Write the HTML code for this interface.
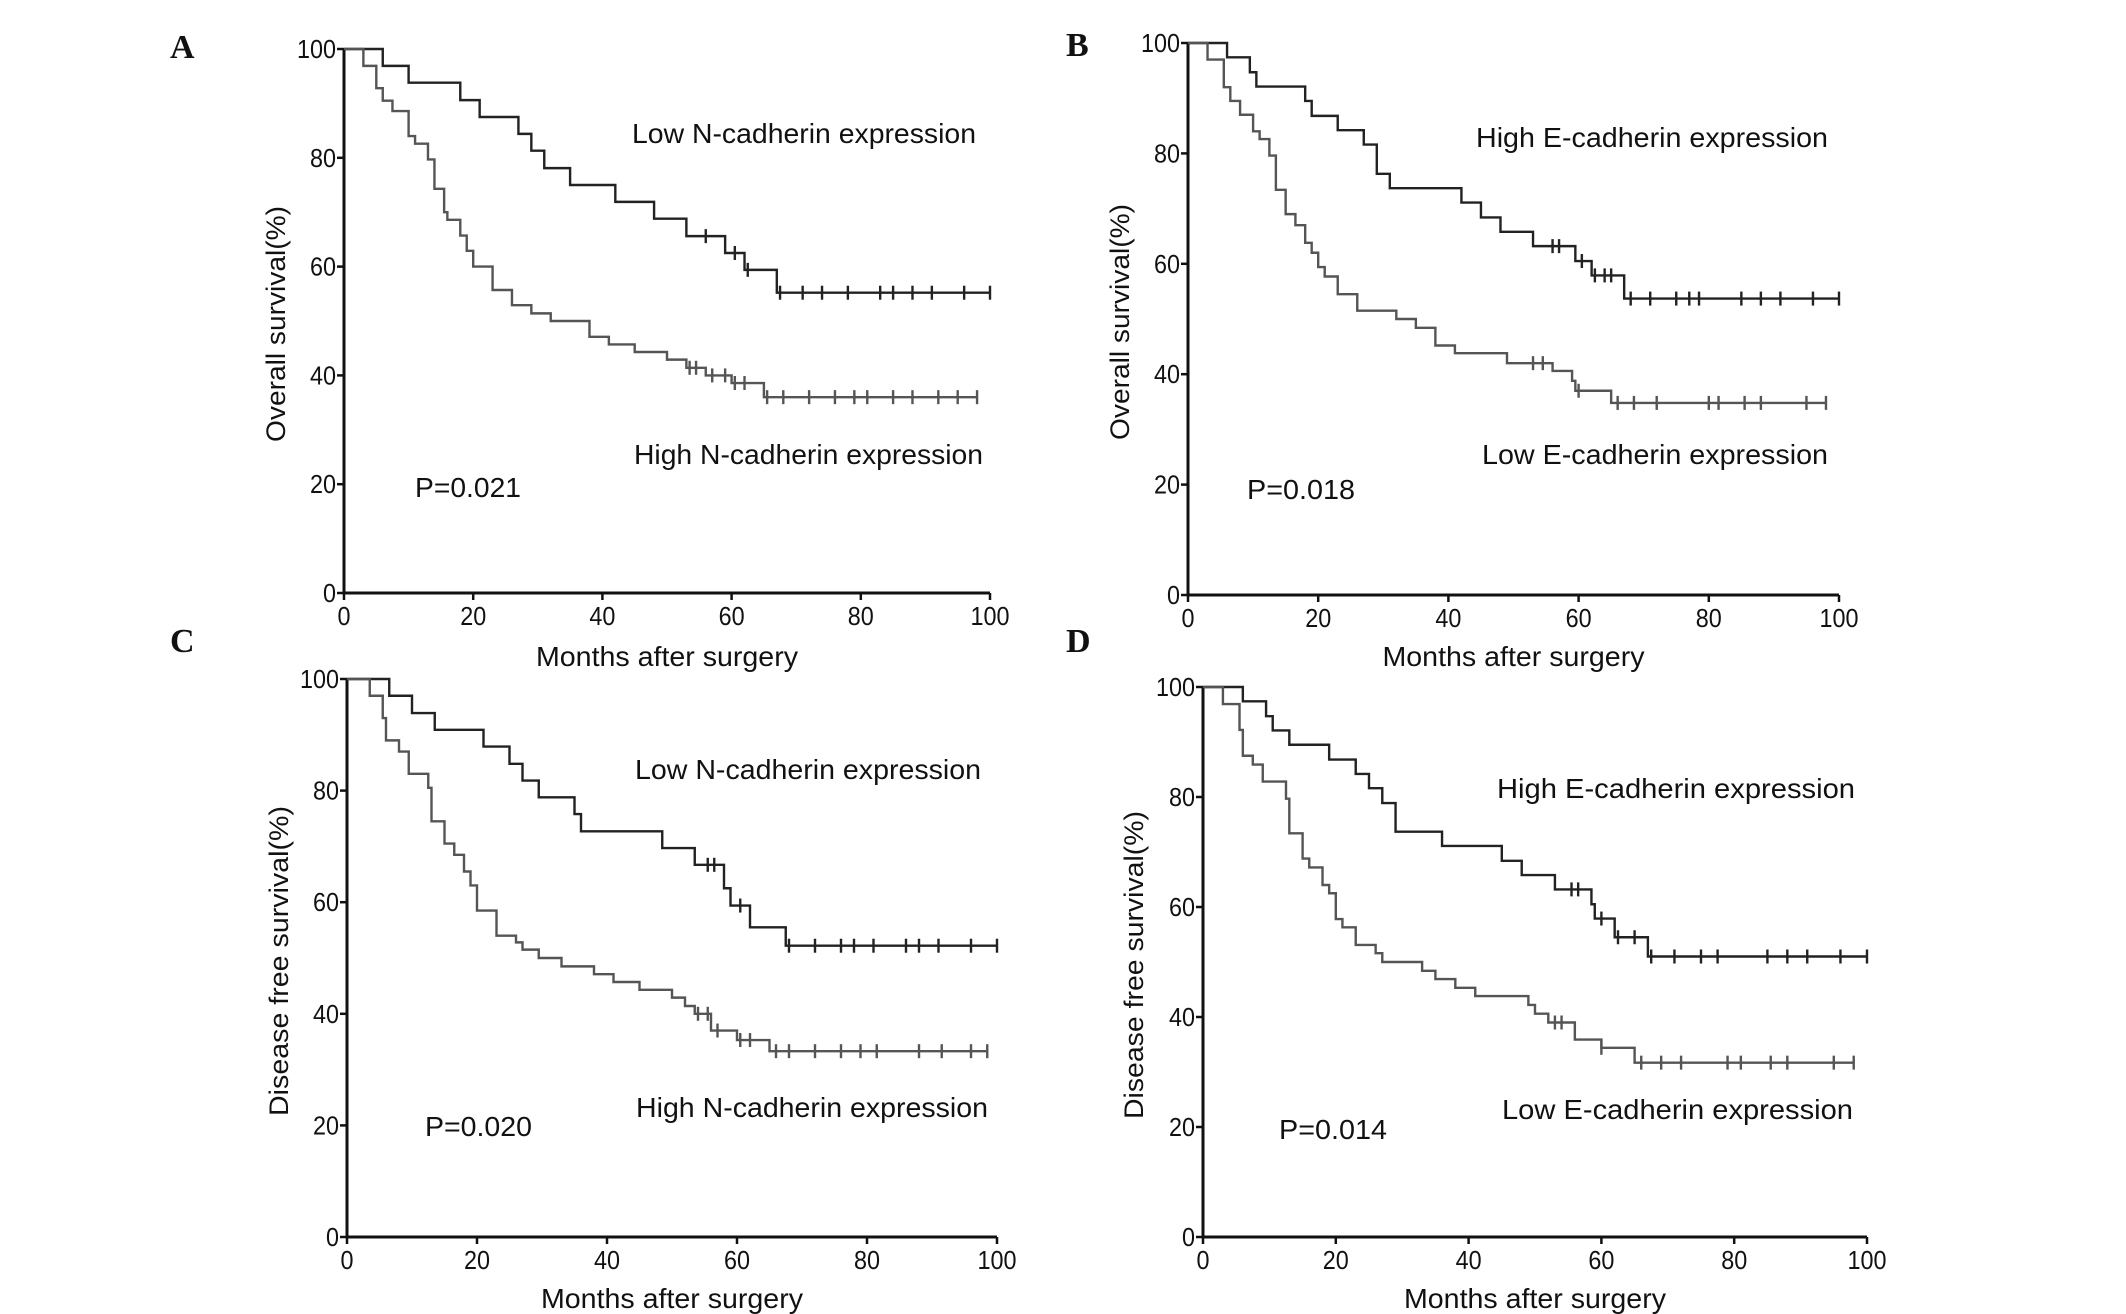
<!DOCTYPE html>
<html><head><meta charset="utf-8"><style>
html,body{margin:0;padding:0;background:#fff;}
svg{display:block;}
text{font-family:"Liberation Sans",Arial,sans-serif;fill:#111;}
.pl{font-family:"Liberation Serif",serif;font-weight:bold;font-size:34px;}
</style></head><body>
<svg id="fig" width="2126" height="1314" viewBox="0 0 2126 1314" xmlns="http://www.w3.org/2000/svg">
<text class="pl" x="170" y="58">A</text>
<text class="pl" x="1066" y="56">B</text>
<text class="pl" x="170" y="652">C</text>
<text class="pl" x="1066" y="652">D</text>
</svg>
<script>
// ---- data ----
const xTicks = [0,20,40,60,80,100];
const yTicks = [0,20,40,60,80,100];
const aLowT = [6,10,18,21,27,29,31,35,42,48,53,59,62,67];
const aLowS = [96.9,93.8,90.6,87.5,84.4,81.3,78.1,75,71.9,68.8,65.6,62.5,59.4,55.2];
const aLowC = [56,60.5,62.5,67.5,71,74,78,83,85,88,91,96,100];
const aHighT = [3,5,6,7.5,10,11,13,14,15.5,16,18,19,20,23,26,29,32,38,41,45,50,53,56,60,65];
const aHighS = [96.9,92.8,90.5,88.6,84,82.6,79.7,74.3,70,68.6,65.7,62.9,60,55.7,52.9,51.4,50,47.1,45.7,44.3,42.9,41.4,40,38.6,36];
const aHighC = [53.5,54.5,57,59,60.5,62,65.5,68,72,76,79,81,85,88,92,95,98];
const bHighT = [6,9.5,10.5,18,19,23,27,29,31,42,45,48,53,59.5,62,67];
const bHighS = [97.4,94.7,92.1,89.5,86.8,84.2,81.6,76.3,73.7,71.1,68.4,65.8,63.2,60.5,57.9,53.7];
const bHighC = [56,57,60.5,62.5,64,65,68,71,75,77,78.5,85,88,91,96,100];
const bLowT = [3,5.5,6.5,8,10,11,12.5,13.5,15,16.5,18,19,20,21,23,26,32,35,38,41,49,56,59,59.5,65];
const bLowS = [97,92,89.5,87,84,82.6,79.6,73.4,69,67,63.8,62,59.4,57.7,54.5,51.5,50,48.4,45.2,43.8,42,40.6,38.8,37,34.8];
const bLowC = [53,54.5,60,66,68.5,72,80,81.5,85.5,88,95,98];
const cLowT = [6.5,10,13.5,21,25,27,29.5,35,36,48.5,53.5,58,59,62,67.5];
const cLowS = [97,93.9,90.9,87.9,84.8,81.8,78.8,75.8,72.7,69.7,66.7,62.5,59.4,55.5,52.2];
const cLowC = [55.5,56.5,60.5,68,72,76,78,81,86,88,91,96,100];
const cHighT = [3.5,5.5,6,8,9.5,12.5,13,15,16.5,18,19,20,23,26,27,29.5,33,38,41,45,50,52,53.5,56,60,65];
const cHighS = [97,93,89,87,83,80.5,74.5,70.5,68.5,65.5,63,58.5,54,52.8,51.5,50,48.5,47.1,45.7,44.3,42.9,41.4,40,37,35.3,33.3];
const cHighC = [54,55.5,57,60.5,62,66,68,72,76,79,81.5,88,91.5,96,98.5];
const dHighT = [6,9.5,10.5,13,19,23,25,27,29,36,45,48,53,58.5,59,62,67];
const dHighS = [97.4,94.7,92.1,89.5,86.8,84.2,81.6,78.9,73.7,71.1,68.4,65.8,63.2,60.5,57.9,54.5,51];
const dHighC = [55.5,56.5,60,62.5,65,67.5,71,75,77.5,85,88,91,96,100];
const dLowT = [3,5.5,6,7.5,9,12.5,13,15,16,18,19,20,21,23,26,27,33,35,38,41,49,50,52,56,60,65];
const dLowS = [96.9,92.2,87.5,85.9,82.8,79.7,73.4,68.8,67.2,64,62.5,57.8,56.3,53.1,51.6,50,48.4,46.9,45.3,43.8,42.2,40.6,39,35.9,34.4,31.7];
const dLowC = [53,54,60,66,69,72,79,81,85.5,88,95,98];

const NS = "http://www.w3.org/2000/svg";
const svg = document.getElementById('fig');
function mk(tag, attrs, parent){
  const e = document.createElementNS(NS, tag);
  for (const k in attrs) e.setAttribute(k, attrs[k]);
  (parent||svg).appendChild(e);
  return e;
}
function txt(parent, s, x, y, size, anchor, len, rot){
  const t = mk('text', {x:x, y:y, 'font-size':size, 'text-anchor':anchor||'start'}, parent);
  if (len){ t.setAttribute('textLength', len); t.setAttribute('lengthAdjust','spacingAndGlyphs'); }
  if (rot) t.setAttribute('transform', 'rotate(-90 '+x+' '+y+')');
  t.textContent = s;
  return t;
}

function panel(id, box, yTitle, yTitleLen, yTitleX, curves, labels, pval){
  const g = mk('g', {});
  
  
  const X = v => box.x0 + (box.x1 - box.x0) * v / 100;
  const Y = v => box.y0 - (box.y0 - box.y1) * v / 100;
  const ax = mk('path', {d:'M'+box.x0+' '+Y(100)+' V'+box.y0+' H'+X(100), fill:'none', stroke:'#111', 'stroke-width':3}, g);
  
  
  xTicks.forEach(v=>{
    mk('line', {x1:X(v), x2:X(v), y1:box.y0, y2:box.y0+7, stroke:'#111','stroke-width':2.5}, g);
    const t = txt(g, String(v), X(v), box.y0+32, 26, 'middle', String(v).length*13);
    
    
  });
  yTicks.forEach(v=>{
    mk('line', {x1:box.x0-7, x2:box.x0, y1:Y(v), y2:Y(v), stroke:'#111','stroke-width':2.5}, g);
    const t = txt(g, String(v), box.x0-8, Y(v)+9, 26, 'end', String(v).length*13);
    
    
  });
  curves.forEach(c=>{
    let d = 'M'+X(0)+' '+Y(100);
    for (let i=0;i<c.t.length;i++){ d += ' H'+X(c.t[i])+' V'+Y(c.s[i]); }
    const end = Math.max(c.t[c.t.length-1], c.c[c.c.length-1]);
    d += ' H'+X(end);
    const p = mk('path', {d:d, fill:'none', stroke:c.color, 'stroke-width':2.4}, g);
    
    
    c.c.forEach(ct=>{
      let sv = 100;
      for (let i=0;i<c.t.length;i++) if (c.t[i] <= ct) sv = c.s[i];
      const m = mk('line', {x1:X(ct), x2:X(ct), y1:Y(sv)-7, y2:Y(sv)+7, stroke:c.color, 'stroke-width':2.4}, g);
      
      
    });
  });
  labels.forEach(l=>{
    const t = txt(g, l.s, l.x, l.y, 28, 'start', l.w);
    
    
  });
  const pt = txt(g, pval.s, pval.x, pval.y, 28, 'start', pval.w);
  
  
  const yt = txt(g, yTitle, yTitleX + 10, (box.y0+box.y1)/2 + 3, 27, 'middle', yTitleLen, true);
  
  
  const xt = txt(g, 'Months after surgery', (X(0)+X(100))/2, box.xtY, 28, 'middle', 262);
  
  
}

panel('a', {x0:344,x1:990,y0:593,y1:49,xtY:666}, 'Overall survival(%)', 236, 275,
  [{t:aLowT,s:aLowS,c:aLowC,color:'#222',name:'low-n-cadherin-curve'},
   {t:aHighT,s:aHighS,c:aHighC,color:'#555',name:'high-n-cadherin-curve'}],
  [{s:'Low N-cadherin expression',x:632,y:143,w:344,name:'low-n-label'},
   {s:'High N-cadherin expression',x:634,y:464,w:349,name:'high-n-label'}],
  {s:'P=0.021',x:415,y:497,w:106});

panel('b', {x0:1188,x1:1839,y0:595,y1:43,xtY:666}, 'Overall survival(%)', 236, 1119,
  [{t:bHighT,s:bHighS,c:bHighC,color:'#222',name:'high-e-cadherin-curve'},
   {t:bLowT,s:bLowS,c:bLowC,color:'#555',name:'low-e-cadherin-curve'}],
  [{s:'High E-cadherin expression',x:1476,y:147,w:352,name:'high-e-label'},
   {s:'Low E-cadherin expression',x:1482,y:464,w:346,name:'low-e-label'}],
  {s:'P=0.018',x:1247,y:499,w:108});

panel('c', {x0:347,x1:997,y0:1237,y1:679,xtY:1308}, 'Disease free survival(%)', 310, 278,
  [{t:cLowT,s:cLowS,c:cLowC,color:'#222',name:'low-n-cadherin-curve'},
   {t:cHighT,s:cHighS,c:cHighC,color:'#555',name:'high-n-cadherin-curve'}],
  [{s:'Low N-cadherin expression',x:635,y:779,w:346,name:'low-n-label'},
   {s:'High N-cadherin expression',x:636,y:1117,w:352,name:'high-n-label'}],
  {s:'P=0.020',x:425,y:1136,w:107});

panel('d', {x0:1203,x1:1867,y0:1237,y1:687,xtY:1308}, 'Disease free survival(%)', 308, 1133,
  [{t:dHighT,s:dHighS,c:dHighC,color:'#222',name:'high-e-cadherin-curve'},
   {t:dLowT,s:dLowS,c:dLowC,color:'#555',name:'low-e-cadherin-curve'}],
  [{s:'High E-cadherin expression',x:1497,y:798,w:358,name:'high-e-label'},
   {s:'Low E-cadherin expression',x:1502,y:1119,w:351,name:'low-e-label'}],
  {s:'P=0.014',x:1279,y:1139,w:108});
</script>
</body></html>
